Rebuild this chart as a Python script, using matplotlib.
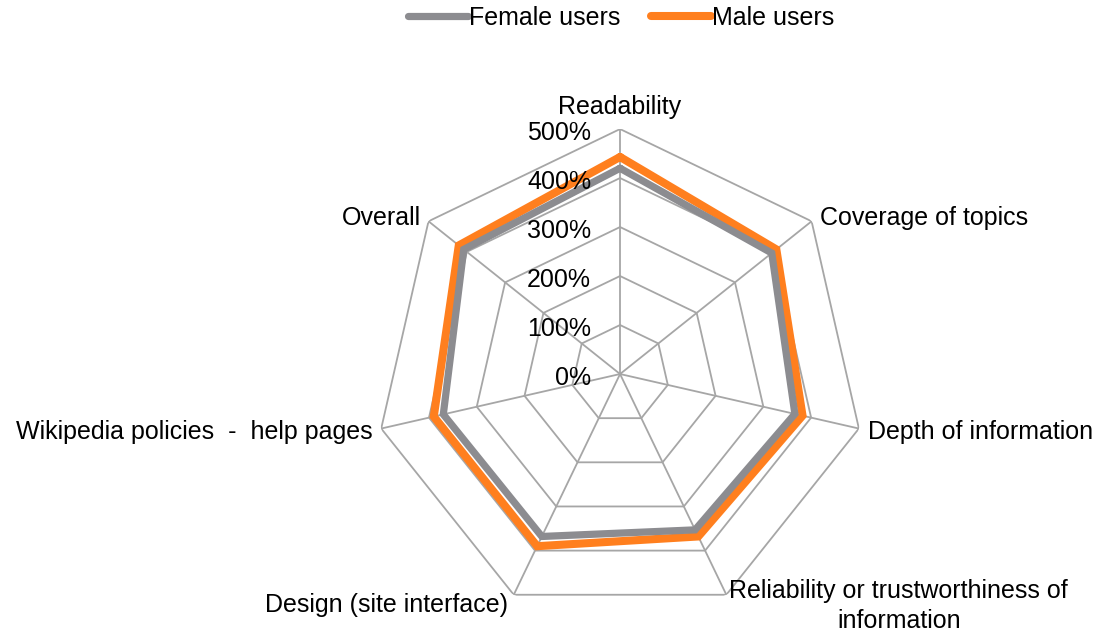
import numpy as np
import matplotlib
matplotlib.use("Agg")
import matplotlib.pyplot as plt

# data
categorias = ["Readability", "Coverage of topics", "Depth of information",
              "Reliability or trustworthiness of\ninformation",
              "Design (site interface)", "Wikipedia policies  -  help pages", "Overall"]
mujeres = [420, 396, 366, 353, 368, 370, 408]
hombres = [443, 408, 382, 368, 390, 390, 421]
ticks_r = [0, 100, 200, 300, 400, 500]
etiquetas_r = ["0%", "100%", "200%", "300%", "400%", "500%"]

plt.rcParams["font.family"] = ["Liberation Sans", "DejaVu Sans"]
plt.rcParams["font.size"] = 18

gris_malla = "#A6A6A6"
gris = "#8C8C90"
naranja = "#FF7F1E"

fig = plt.figure(figsize=(11.03, 6.31), dpi=100)
ax = fig.add_axes([0.34, 0.019, 0.4443, 0.7765], projection="polar")
ax.set_theta_offset(np.pi / 2)
ax.set_theta_direction(-1)
ax.set_ylim(0, 500)
ax.grid(False)
ax.spines["polar"].set_visible(False)
ax.set_xticks([])
ax.set_yticks([])

n = len(categorias)
angulos = np.linspace(0, 2 * np.pi, n, endpoint=False)
cerrado = np.append(angulos, angulos[0])

# malla poligonal
for r in ticks_r[1:]:
    ax.plot(cerrado, [r] * (n + 1), color=gris_malla, lw=1.3, zorder=1)
for a in angulos:
    ax.plot([a, a], [0, 500], color=gris_malla, lw=1.3, zorder=1)

# series
ax.plot(cerrado, mujeres + mujeres[:1], color=gris, lw=5.2, label="Female users",
        solid_joinstyle="miter", solid_capstyle="round", zorder=3)
ax.plot(cerrado, hombres + hombres[:1], color=naranja, lw=5.8, label="Male users",
        solid_joinstyle="miter", solid_capstyle="round", zorder=2)

# etiquetas radiales
for r, t in zip(ticks_r, etiquetas_r):
    ax.annotate(t, xy=(0, r), xytext=(-29, -4), textcoords="offset pixels",
                ha="right", va="center", zorder=4)

# etiquetas de categorias
ajustes = [((0, 10), "center", "bottom"),
           ((8, 3), "left", "center"),
           ((9, -3), "left", "center"),
           ((3, -11), "left", "center"),
           ((-6, -10), "right", "center"),
           ((-9, -3), "right", "center"),
           ((-8, 3), "right", "center")]
for a, texto, (off, ha, va) in zip(angulos, categorias, ajustes):
    ax.annotate(texto, xy=(a, 500), xytext=off, textcoords="offset pixels",
                ha=ha, va=va, multialignment="center", linespacing=1.3,
                annotation_clip=False)

fig.legend(loc="center", bbox_to_anchor=(0.563, 1 - 18 / 631), ncol=2, frameon=False,
           handlelength=2.4, handletextpad=0.05, columnspacing=1.2)

fig.savefig("out.png", dpi=100)
